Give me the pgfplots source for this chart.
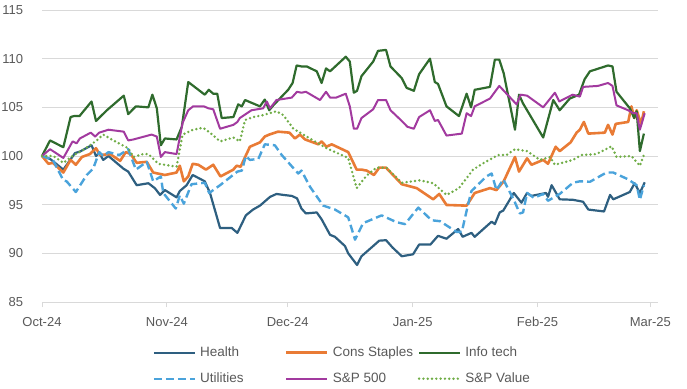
\documentclass[border=0pt]{standalone}
\usepackage{fontspec}
\setmainfont{Liberation Sans}
\usepackage{pgfplots}
\pgfplotsset{compat=1.18}
\definecolor{gridc}{HTML}{D9D9D9}
\definecolor{txt}{HTML}{595959}
\definecolor{chealth}{HTML}{2E5F80}
\definecolor{cstaples}{HTML}{E97B35}
\definecolor{ctech}{HTML}{2F6B2D}
\definecolor{cutil}{HTML}{4AA3DB}
\definecolor{csp}{HTML}{A23A9F}
\definecolor{cval}{HTML}{70AD47}
\begin{document}
\begin{tikzpicture}
\useasboundingbox (0pt,0pt) rectangle (687pt,388pt);
\begin{axis}[
  at={(42pt,86pt)}, anchor=south west,
  scale only axis, width=616pt, height=292pt,
  xmin=0, xmax=152.9, ymin=85, ymax=115,
  axis x line*=bottom, axis y line*=left,
  y axis line style={draw=none},
  x axis line style={draw=gridc, line width=0.8pt},
  ytick={85,90,...,115},
  ymajorgrids, grid style={gridc, line width=0.8pt},
  xtick={0,31,61,92,123,151},
  xticklabels={Oct-24,Nov-24,Dec-24,Jan-25,Feb-25,Mar-25},
  tick align=outside,
  x tick style={draw=gridc, line width=0.8pt},
  major tick length=5pt,
  y tick style={draw=none},
  tick label style={font=\fontsize{13}{15}\selectfont, text=txt},
  /pgf/number format/assume math mode=true,
  yticklabel style={xshift=-10.4pt},
  xticklabel style={yshift=-6.5pt},
  clip=false,
  legend columns=3,
  legend style={at={(0.1795,0)}, anchor=north west, yshift=-44pt,
    draw=none, fill=none, inner sep=0pt, column sep=4pt, row sep=13pt,
    font=\fontsize{13.5}{15}\selectfont, text=txt,
    nodes={inner sep=0pt, text height=10pt, text depth=3pt}},
  legend cell align=left,
  legend image code/.code={\draw[#1] (0pt,0pt) -- (41pt,0pt);},
  every axis plot/.append style={line join=round},
]
\addplot[chealth, line width=2.2pt] coordinates {
(0,100) (2.0,99.7) (5.3,98.6) (8.2,100.3) (9.4,100.45) (12.3,101.1) (13.4,100.0) (14.2,100.3) (15.2,99.6) (16.5,100.0)
(20.2,98.7) (21.4,98.4) (23.5,97.0) (26.4,97.2) (28.0,96.7) (29.3,96.0) (30.5,96.5) (33.4,95.75) (34.2,96.4) (35.9,97.0)
(37.4,98.05) (40.4,97.4) (41.7,96.2) (44.2,92.6) (47.1,92.6) (48.5,92.1) (50.6,93.9) (52.4,94.5) (54.1,94.9) (56.6,95.8)
(58.2,96.1) (59.9,96.0) (62.0,95.9) (63.3,95.65) (64.4,94.6) (65.5,94.1) (68.2,94.2) (69.4,93.5) (71.5,91.9) (72.7,91.7)
(75.2,90.75) (76.0,90.0) (78.2,88.8) (79.3,89.7) (82.2,90.75) (83.7,91.3) (85.4,91.35) (87.0,90.6) (89.3,89.7) (92.1,89.9)
(93.6,90.9) (96.4,90.9) (98.3,91.8) (100.4,91.5) (103.3,92.5) (104.4,91.7) (106.6,92.1) (107.4,91.7) (111.6,93.25) (112.4,93.0)
(113.6,94.2) (114.5,94.4) (117.1,96.2) (119.0,95.2) (120.4,96.2) (121.5,95.9) (125.1,96.2) (125.6,95.8) (126.5,97.0) (128.5,95.55)
(131.8,95.5) (134.3,95.3) (135.6,94.5) (139.5,94.3) (141.0,96.0) (141.8,95.55) (145.9,96.3) (147.1,97.2) (148.4,96.2) (149.6,97.3)
};
\addlegendentry{\makebox[81pt][l]{Health}}
\addplot[cstaples, line width=2.6pt] coordinates {
(0,100) (1.6,99.2) (2.7,99.3) (5.3,98.3) (7.1,99.6) (8.4,99.1) (9.9,99.9) (11.9,100.2) (13.4,100.8) (14.4,100.1)
(16.9,100.2) (19.4,99.5) (20.8,100.4) (22.0,100.2) (23.5,99.3) (26.0,99.4) (27.6,98.3) (30.5,98.05) (33.4,98.3) (34.2,99.0)
(35.2,97.4) (36.3,97.9) (37.4,99.2) (38.8,99.1) (40.7,98.6) (42.5,99.1) (44.3,97.9) (47.5,98.6) (48.3,99.0) (49.3,98.9)
(51.6,100.95) (54.1,101.4) (55.3,102.0) (56.4,102.2) (58.6,102.5) (61.4,102.4) (62.8,101.8) (64.0,102.2) (65.3,101.7) (68.6,101.2)
(69.4,101.5) (70.6,100.95) (71.9,101.2) (76.0,100.4) (78.1,98.6) (79.3,98.6) (80.6,98.5) (82.4,98.05) (83.7,98.8) (85.4,98.8)
(89.3,97.1) (93.0,96.7) (97.1,95.55) (98.6,96.1) (100.4,94.97) (105.4,94.9) (107.4,96.2) (111.2,96.7) (112.8,96.5) (114.6,97.4)
(117.4,99.9) (118.4,98.4) (120.4,99.76) (121.5,99.1) (124.4,99.6) (125.6,99.2) (127.5,100.95) (128.5,100.5) (131.2,101.4) (132.7,102.4)
(133.5,102.7) (134.5,103.5) (135.6,102.3) (139.7,102.4) (140.5,103.2) (141.6,102.2) (142.4,103.3) (145.5,103.5) (146.3,105.1) (147.0,103.9)
(147.6,104.7) (148.7,103.3) (149.4,104.6)
};
\addlegendentry{\makebox[81pt][l]{Cons Staples}}
\addplot[ctech, line width=2.2pt] coordinates {
(0,100) (2.0,101.6) (5.3,100.9) (7.1,104.0) (7.9,104.1) (9.3,104.1) (12.3,105.6) (13.4,103.6) (16.1,104.7) (20.3,106.2)
(21.4,104.3) (23.3,105.1) (26.4,105.0) (27.4,106.3) (28.5,104.9) (29.5,101.1) (30.5,101.8) (33.4,101.7) (34.7,103.0) (36.3,107.6)
(40.4,106.3) (41.4,106.8) (42.5,106.4) (43.5,106.4) (44.6,103.9) (47.5,104.0) (48.7,105.3) (49.6,105.1) (50.4,105.75) (54.1,105.1)
(55.3,105.8) (56.4,104.7) (57.4,105.2) (61.1,106.8) (62.2,107.5) (63.2,109.3) (64.4,109.2) (65.7,109.2) (68.2,108.7) (69.4,107.5)
(70.5,109.0) (71.5,108.7) (75.4,110.2) (76.4,109.7) (77.4,106.5) (78.2,106.7) (79.3,108.2) (82.2,109.7) (83.4,110.8) (85.4,110.9)
(86.5,109.2) (89.3,108.0) (90.5,107.0) (92.3,106.7) (93.6,108.4) (96.3,110.0) (97.5,107.6) (98.3,107.4) (100.4,105.1) (103.5,104.1)
(105.4,106.4) (106.5,105.0) (107.4,106.8) (111.2,107.1) (112.4,109.9) (113.5,109.9) (114.6,108.5) (117.4,102.7) (118.4,106.3) (119.4,105.4)
(124.4,101.9) (126.9,105.75) (128.5,104.7) (131.0,105.9) (133.3,106.3) (134.7,107.9) (136.0,108.7) (140.5,109.3) (141.6,109.2) (142.6,106.6)
(145.9,104.9) (147.0,103.9) (147.6,104.6) (148.4,100.5) (149.4,102.3)
};
\addlegendentry{Info tech}
\addplot[cutil, line width=2.4pt, dash pattern=on 8pt off 4pt] coordinates {
(0,100) (2.7,99.6) (5.3,97.5) (6.1,97.4) (8.4,96.3) (11.1,98.05) (12.7,98.7) (14.2,100.4) (15.2,100.0) (16.5,100.4)
(19.2,100.1) (21.4,100.7) (23.3,98.6) (26.0,99.4) (27.6,97.4) (29.5,97.9) (30.1,96.2) (33.2,94.6) (34.2,95.95) (35.2,95.1)
(37.1,97.1) (40.4,97.25) (41.5,96.2) (44.2,97.0) (48.5,98.4) (49.6,98.5) (50.6,100.0) (51.6,99.6) (53.7,99.7) (55.3,101.2)
(57.8,101.1) (59.5,100.1) (63.6,98.2) (64.4,98.5) (66.5,96.85) (69.8,94.9) (72.7,94.5) (76.0,93.7) (77.7,91.4) (79.7,93.1)
(84.3,93.9) (88.0,93.2) (90.1,93.0) (93.4,94.7) (96.7,93.4) (98.8,93.3) (102.9,92.2) (104.2,92.2) (105.8,95.1) (106.6,96.4)
(110.3,97.9) (111.6,98.2) (112.8,96.5) (114.5,97.6) (117.1,95.5) (118.6,94.1) (119.4,94.2) (120.4,96.2) (122.1,95.7) (124.4,96.1)
(125.6,95.4) (128.5,96.1) (131.8,97.25) (133.5,97.4) (136.0,97.35) (140.1,98.3) (141.8,98.3) (145.5,97.6) (147.6,97.0) (148.4,95.5)
(149.4,97.0)
};
\addlegendentry{Utilities}
\addplot[csp, line width=2pt] coordinates {
(0,100) (2.0,100.7) (5.3,99.8) (7.6,101.5) (8.6,101.3) (9.4,101.8) (12.1,102.4) (13.2,102.0) (14.2,102.4) (16.5,102.7)
(20.3,102.5) (21.4,101.6) (22.7,101.7) (27.2,102.2) (28.5,102.0) (29.5,99.9) (30.5,100.4) (33.4,100.2) (34.9,103.4) (36.3,104.7)
(37.5,105.1) (40.2,105.1) (41.3,104.9) (42.5,104.8) (44.2,102.8) (47.5,103.2) (48.5,103.5) (49.1,103.9) (52.0,104.7) (54.9,104.9)
(55.8,105.6) (56.6,104.9) (58.2,105.75) (62.0,106.0) (63.3,106.6) (64.4,106.5) (65.5,106.6) (69.0,105.75) (70.5,106.6) (71.5,106.0)
(73.0,106.0) (75.4,106.4) (76.4,105.1) (77.4,102.8) (78.2,102.8) (79.3,103.9) (82.2,104.8) (83.4,105.75) (85.4,105.75) (86.5,104.7)
(89.3,103.6) (90.7,103.0) (92.3,102.8) (93.6,104.0) (96.3,104.7) (97.5,103.6) (98.3,103.7) (100.4,102.1) (104.2,102.3) (105.4,104.4)
(106.5,104.1) (107.4,105.1) (111.2,105.9) (113.5,107.2) (117.8,105.3) (118.8,106.3) (120.4,106.2) (124.4,105.0) (127.3,106.5) (128.4,105.6)
(131.7,106.3) (133.5,106.1) (134.3,107.1) (138.0,107.2) (140.5,107.5) (141.6,107.2) (142.6,105.2) (145.5,104.7) (146.7,104.4) (147.6,104.4)
(148.4,102.7) (149.6,104.4)
};
\addlegendentry{S\&P 500}
\addplot[cval, line width=2.7pt, line cap=round, dash pattern=on 0pt off 4.3pt] coordinates {
(0,100) (2.8,100.0) (5.3,99.3) (7.9,100.1) (10.2,100.6) (13.6,101.6) (15.2,102.2) (17.7,101.6) (21.4,100.8) (22.7,99.9)
(25.1,100.2) (26.4,100.2) (28.9,99.2) (33.4,98.9) (34.9,102.2) (37.5,102.7) (40.0,102.9) (41.7,102.4) (44.2,101.5) (47.5,101.9)
(49.1,101.5) (50.4,103.7) (52.4,104.0) (54.9,104.2) (58.2,104.6) (59.9,104.2) (62.4,102.8) (65.7,102.0) (70.6,100.8) (76.0,99.8)
(78.1,96.7) (80.6,98.0) (83.0,98.8) (85.5,98.8) (89.3,97.25) (93.8,97.5) (97.1,97.2) (100.4,96.0) (103.5,96.7) (107.0,98.6)
(109.5,99.25) (113.2,100.1) (115.3,100.1) (117.4,100.7) (120.4,100.5) (123.6,99.6) (126.1,99.9) (127.3,99.1) (131.8,99.6) (133.9,100.1)
(137.6,100.2) (141.4,101.0) (142.6,99.9) (146.3,100.0) (148.4,99.0) (149.4,100.1)
};
\addlegendentry{S\&P Value}
\end{axis}
\end{tikzpicture}
\end{document}
